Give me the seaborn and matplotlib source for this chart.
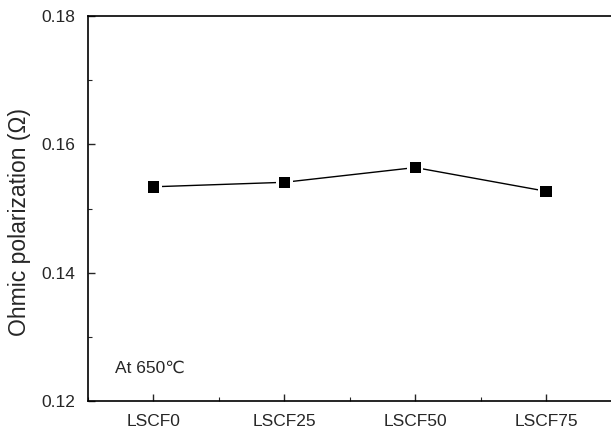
import numpy as np
import matplotlib
matplotlib.use("Agg")
import matplotlib.pyplot as plt
import seaborn as sns
from matplotlib.ticker import MultipleLocator

# data
samples = ["LSCF0", "LSCF25", "LSCF50", "LSCF75"]
ohmic = [0.1534, 0.1541, 0.1564, 0.1527]
y_ticks = [0.12, 0.14, 0.16, 0.18]

sns.set_style("ticks")
plt.rcParams['font.family'] = ['Liberation Sans', 'DejaVu Sans']
plt.rcParams['xtick.direction'] = 'in'
plt.rcParams['ytick.direction'] = 'in'

fig = plt.figure(figsize=(6.11, 4.30), dpi=100)
ax = fig.add_axes([0.144, 0.0674, 0.857, 0.895])

x = np.arange(len(samples))
sns.lineplot(x=x, y=ohmic, ax=ax, color='black', linewidth=1.0)
# white halo gives the small gap between line and marker
sns.scatterplot(x=x, y=ohmic, ax=ax, marker='s', s=140, color='white',
                edgecolor='none', zorder=3)
sns.scatterplot(x=x, y=ohmic, ax=ax, marker='s', s=68, color='black',
                edgecolor='none', zorder=4)

ax.set_xlim(-0.5, 3.5)
ax.set_ylim(0.12, 0.18)
ax.set_xticks(x)
ax.set_xticklabels(samples)
ax.xaxis.set_minor_locator(MultipleLocator(0.5))
ax.set_yticks(y_ticks)
ax.set_yticklabels([f"{t:.2f}" for t in y_ticks])
ax.yaxis.set_minor_locator(MultipleLocator(0.01))

ax.tick_params(axis='both', which='major', labelsize=12.5, length=5, width=1, pad=9)
ax.tick_params(axis='both', which='minor', length=3, width=0.8)
ax.tick_params(axis='x', which='both', top=False)
ax.tick_params(axis='y', which='both', right=False)

ax.set_ylabel("Ohmic polarization (Ω)", fontsize=16.5)
ax.yaxis.set_label_coords(-0.109, 0.465)
ax.set_xlabel("")

for side in ['left', 'bottom', 'top']:
    ax.spines[side].set_linewidth(1.2)
    ax.spines[side].set_color('black')
ax.spines['right'].set_visible(False)

ax.text(0.052, 0.073, "At 650℃", transform=ax.transAxes, fontsize=12.5,
        ha='left', va='baseline')

fig.savefig("out.png", dpi=100)
